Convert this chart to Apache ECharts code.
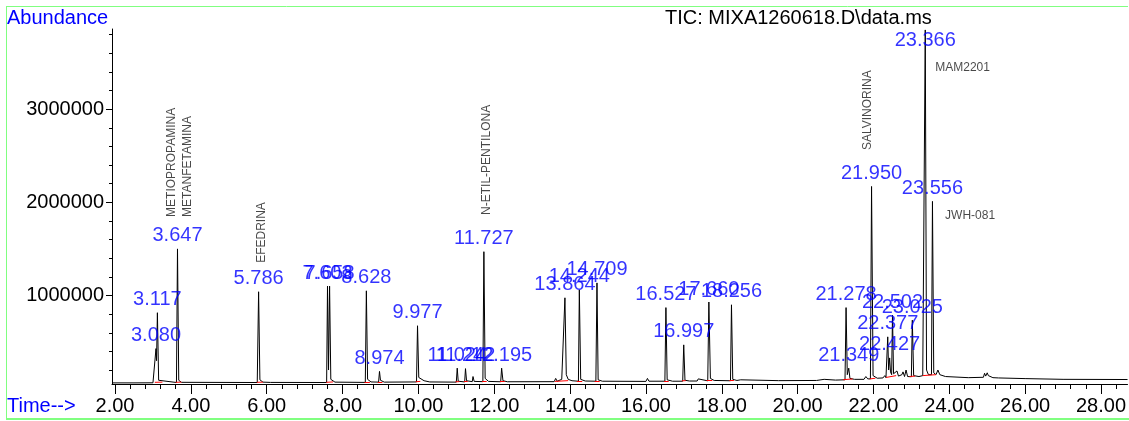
<!DOCTYPE html>
<html>
<head>
<meta charset="utf-8">
<script src="https://cdn.jsdelivr.net/npm/echarts@6/dist/echarts.min.js"></script>
<style>
html,body{margin:0;padding:0;background:#fff;}
#chart{width:1129px;height:421px;}
</style>
</head>
<body>
<div id="chart"></div>
<script>
// ---- Data ----
const peakTimes = [3.080, 3.117, 3.647, 5.786, 7.603, 7.658, 8.628, 8.974, 9.977, 11.024, 11.242, 11.727, 12.195, 13.864, 14.244, 14.709, 16.527, 16.997, 17.660, 18.256, 21.278, 21.349, 21.950, 22.377, 22.427, 22.502, 23.025, 23.366, 23.556];
const peakHeights = [430000, 815000, 1500000, 1040000, 1100000, 1100000, 1050000, 185000, 675000, 220000, 215000, 1470000, 220000, 975000, 1060000, 1135000, 870000, 470000, 930000, 900000, 870000, 220000, 2170000, 556000, 330000, 790000, 735000, 3850000, 2010000];

const traceTime = [1.92, 2.5, 3.0, 3.05, 3.080, 3.095, 3.117, 3.15, 3.2,
  3.62, 3.647, 3.68, 3.75,
  5.75, 5.786, 5.82, 5.9, 6.1,
  7.58, 7.603, 7.63, 7.658, 7.69, 7.8,
  8.60, 8.628, 8.66, 8.75,
  8.95, 8.974, 9.0, 9.1,
  9.95, 9.977, 10.01, 10.05, 10.15, 10.3,
  11.0, 11.024, 11.05, 11.22, 11.242, 11.27, 11.42, 11.44, 11.47,
  11.70, 11.727, 11.76, 11.85,
  12.17, 12.195, 12.23, 12.35,
  13.58, 13.62, 13.66, 13.78, 13.864, 13.9, 13.95, 14.0, 14.05,
  14.22, 14.244, 14.28, 14.4,
  14.68, 14.709, 14.74, 14.85,
  16.0, 16.04, 16.08,
  16.50, 16.527, 16.56, 16.7,
  16.97, 16.997, 17.03, 17.15,
  17.35, 17.38, 17.42,
  17.63, 17.660, 17.70, 17.8,
  18.23, 18.256, 18.29, 18.4, 18.5, 18.55,
  19.5, 20.5, 20.7, 20.75, 21.0,
  21.25, 21.278, 21.31, 21.349, 21.38, 21.5,
  21.75, 21.8, 21.85, 21.92, 21.950, 21.99, 22.1, 22.25, 22.3, 22.33,
  22.36, 22.377, 22.40, 22.427, 22.45, 22.48, 22.502, 22.53, 22.58, 22.62, 22.66, 22.75, 22.78, 22.82, 22.86, 22.9,
  23.0, 23.025, 23.06, 23.2, 23.25, 23.3,
  23.34, 23.366, 23.40, 23.45, 23.53, 23.556, 23.59, 23.65, 23.7, 23.75, 23.9,
  24.5, 24.9, 24.93, 24.96, 25.0, 25.03, 25.07, 25.15, 25.3, 26.0, 27.0, 28.7];
const traceAbund = [62000, 62000, 63000, 65000, 430000, 300000, 815000, 90000, 70000,
  66000, 1500000, 90000, 68000,
  66000, 1040000, 95000, 70000, 67000,
  66000, 1100000, 200000, 1100000, 100000, 70000,
  67000, 1050000, 100000, 72000,
  70000, 185000, 90000, 70000,
  72000, 675000, 120000, 110000, 85000, 72000,
  70000, 220000, 80000, 72000, 215000, 85000, 75000, 130000, 78000,
  75000, 1470000, 110000, 78000,
  74000, 220000, 85000, 74000,
  75000, 110000, 80000, 100000, 975000, 150000, 100000, 90000, 85000,
  80000, 1060000, 100000, 82000,
  80000, 1135000, 95000, 80000,
  78000, 110000, 80000,
  80000, 870000, 95000, 80000,
  80000, 470000, 90000, 82000,
  82000, 105000, 84000,
  84000, 930000, 110000, 88000,
  85000, 900000, 100000, 88000, 95000, 86000,
  86000, 88000, 100000, 90000, 92000,
  95000, 870000, 150000, 220000, 110000, 100000,
  100000, 130000, 105000, 105000, 2170000, 140000, 112000, 115000, 140000, 118000,
  120000, 556000, 200000, 330000, 180000, 150000, 790000, 160000, 140000, 190000, 135000, 150000, 180000, 130000, 200000, 130000,
  128000, 735000, 140000, 130000, 150000, 140000,
  140000, 3850000, 200000, 150000, 150000, 2010000, 170000, 150000, 200000, 150000, 130000,
  118000, 122000, 165000, 135000, 170000, 140000, 125000, 118000, 115000, 108000, 100000, 98000];

// integration baselines (red)
const redStart = [3.05, 3.60, 5.74, 7.57, 8.58, 8.93, 9.93, 10.98, 11.20, 11.68, 12.15, 13.60, 14.18, 14.65, 16.48, 16.95, 17.60, 18.20, 21.20, 21.90, 22.33, 22.95, 23.30];
const redEnd   = [3.25, 3.75, 5.90, 7.75, 8.72, 9.05, 10.05, 11.08, 11.30, 11.80, 12.28, 13.95, 14.32, 14.78, 16.60, 17.05, 17.75, 18.32, 21.45, 22.05, 22.60, 23.10, 23.65];
const redLevelStart = [68000, 68000, 68000, 68000, 70000, 72000, 74000, 74000, 75000, 76000, 76000, 78000, 82000, 82000, 82000, 84000, 86000, 88000, 96000, 104000, 120000, 130000, 140000];
const redLevelEnd   = [70000, 70000, 70000, 72000, 72000, 72000, 78000, 75000, 76000, 78000, 77000, 86000, 84000, 84000, 84000, 86000, 90000, 90000, 104000, 112000, 140000, 135000, 150000];

// compound annotations
const compoundNames = ['METIOPROPAMINA', 'METANFETAMINA', 'EFEDRINA', 'N-ETIL-PENTILONA', 'SALVINORINA', 'MAM2201', 'JWH-081'];
const compoundTime  = [3.50, 3.92, 5.87, 11.80, 21.84, 23.63, 23.89];
const compoundAbund = [1843000, 1843000, 1350000, 1865000, 2561000, 3440000, 1854000];
const compoundVertical = [true, true, true, true, true, false, false];

// axis ticks
const xTickValues = [2, 4, 6, 8, 10, 12, 14, 16, 18, 20, 22, 24, 26, 28];
const yTickValues = [1000000, 2000000, 3000000];

const xMinor = [];
for (let i = 0; i <= 66; i++) xMinor.push(+(2 + 0.4 * i).toFixed(2));
const yMinor = [];
for (let i = 1; i <= 19; i++) yMinor.push(i * 200000);

const FONT = 'Arial, "Liberation Sans", sans-serif';
const BLUE = '#0000ff';

const chart = echarts.init(document.getElementById('chart'), null, {renderer: 'canvas'});

const trace = traceTime.map((t, i) => [t, traceAbund[i]]);
const peaks = peakTimes.map((t, i) => {
  const item = {value: [t, peakHeights[i]]};
  // the tallest peak is clipped at the top of the plot: its label sits just inside
  if (peakHeights[i] >= 3800000) item.label = {position: 'bottom', distance: 1};
  return item;
});
const redLines = redStart.map((s, i) => ({coords: [[s, redLevelStart[i]], [redEnd[i], redLevelEnd[i]]]}));
const comps = compoundNames.map((n, i) => ({
  value: [compoundTime[i], compoundAbund[i]],
  name: n,
  label: compoundVertical[i]
    ? {rotate: 90, align: 'left', verticalAlign: 'middle', position: 'inside'}
    : {rotate: 0, align: 'left', verticalAlign: 'middle', position: 'inside'}
}));

const option = {
  animation: false,
  backgroundColor: '#ffffff',
  grid: {left: 112, right: 0, top: 29, bottom: 37, containLabel: false},
  xAxis: [{
    type: 'value', min: 1.92, max: 28.7,
    axisLine: {show: true, lineStyle: {color: '#000', width: 1}},
    axisTick: {show: true, customValues: xMinor, length: 5, lineStyle: {color: '#000'}},
    axisLabel: {show: true, customValues: xTickValues, margin: 12, fontSize: 20, color: '#000', fontFamily: FONT,
      formatter: v => v.toFixed(2)},
    splitLine: {show: false}
  }, {
    type: 'value', min: 1.92, max: 28.7, position: 'bottom',
    axisLine: {show: false},
    axisTick: {show: true, customValues: xTickValues, length: 10, lineStyle: {color: '#000'}},
    axisLabel: {show: false},
    splitLine: {show: false}
  }],
  yAxis: [{
    type: 'value', min: 50000, max: 3860000,
    axisLine: {show: true, lineStyle: {color: '#000', width: 1}},
    axisTick: {show: true, customValues: yMinor, length: 3, lineStyle: {color: '#000'}},
    axisLabel: {show: true, customValues: yTickValues, margin: 8, fontSize: 20, color: '#000', fontFamily: FONT,
      formatter: v => String(v)},
    splitLine: {show: false}
  }, {
    type: 'value', min: 50000, max: 3860000, position: 'left',
    axisLine: {show: false},
    axisTick: {show: true, customValues: yTickValues, length: 6, lineStyle: {color: '#000'}},
    axisLabel: {show: false},
    splitLine: {show: false}
  }],
  series: [{
    type: 'line', data: trace, showSymbol: false, symbol: 'none', sampling: 'none',
    lineStyle: {color: '#000', width: 1}, silent: true, z: 2
  }, {
    type: 'lines', coordinateSystem: 'cartesian2d', data: redLines,
    lineStyle: {color: '#ff0000', width: 1, opacity: 1}, silent: true, z: 3
  }, {
    type: 'scatter', data: peaks, symbolSize: 0, silent: true, z: 4,
    label: {show: true, position: 'top', distance: 3, color: BLUE, fontSize: 20, fontFamily: FONT,
      formatter: p => p.value[0].toFixed(3)}
  }, {
    type: 'scatter', data: comps, symbolSize: 0, silent: true, z: 4,
    label: {show: true, color: '#1a1a1a', fontSize: 12, fontFamily: FONT, formatter: p => p.name}
  }],
  graphic: [
    {type: 'line', shape: {x1: 6, y1: 6.5, x2: 1128, y2: 6.5}, style: {stroke: '#80ff80', lineWidth: 1}, silent: true},
    {type: 'line', shape: {x1: 6.5, y1: 6, x2: 6.5, y2: 419}, style: {stroke: '#80ff80', lineWidth: 1}, silent: true},
    {type: 'line', shape: {x1: 6, y1: 419, x2: 1129, y2: 419}, style: {stroke: '#80ff80', lineWidth: 2}, silent: true},
    {type: 'text', left: 7, top: 8, style: {text: 'Abundance', fill: BLUE, fontSize: 20, fontFamily: FONT}, silent: true},
    {type: 'text', left: 7, top: 396, style: {text: 'Time-->', fill: BLUE, fontSize: 20, fontFamily: FONT}, silent: true},
    {type: 'text', left: 665, top: 8, style: {text: 'TIC: MIXA1260618.D\\data.ms', fill: '#000', fontSize: 20, fontFamily: FONT}, silent: true}
  ]
};
chart.setOption(option);
</script>
</body>
</html>
